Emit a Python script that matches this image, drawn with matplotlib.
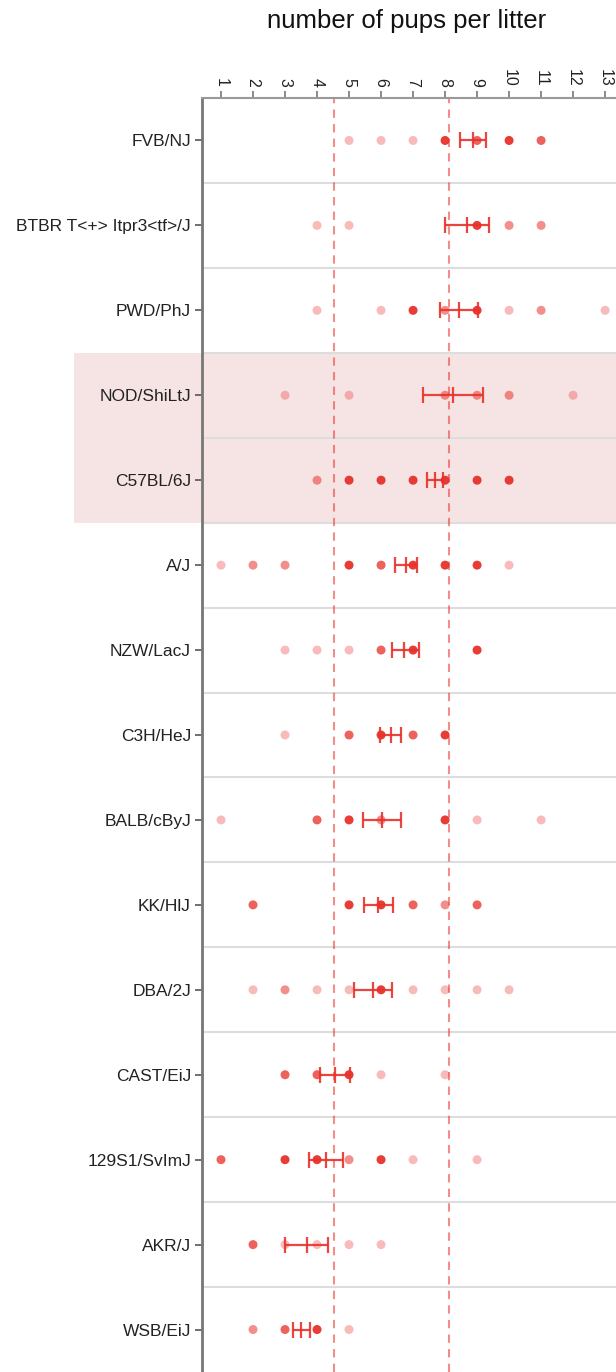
import matplotlib
matplotlib.use("Agg")
import matplotlib.pyplot as plt
from matplotlib.patches import Rectangle
from matplotlib.transforms import blended_transform_factory

plt.rcParams['font.family'] = ['Liberation Sans', 'DejaVu Sans']

# Strains, top to bottom
strains = [
    "FVB/NJ", "BTBR T<+> Itpr3<tf>/J", "PWD/PhJ", "NOD/ShiLtJ", "C57BL/6J",
    "A/J", "NZW/LacJ", "C3H/HeJ", "BALB/cByJ", "KK/HlJ", "DBA/2J",
    "CAST/EiJ", "129S1/SvImJ", "AKR/J", "WSB/EiJ",
]

# Observed litter sizes per strain and how often each occurred
litter_sizes = [
    [5, 6, 7, 8, 9, 10, 11],
    [4, 5, 9, 10, 11],
    [4, 6, 7, 8, 9, 10, 11, 13],
    [3, 5, 8, 9, 10, 12],
    [4, 5, 6, 7, 8, 9, 10],
    [1, 2, 3, 5, 6, 7, 8, 9, 10],
    [3, 4, 5, 6, 7, 9],
    [3, 5, 6, 7, 8],
    [1, 4, 5, 6, 8, 9, 11],
    [2, 5, 6, 7, 8, 9],
    [2, 3, 4, 5, 6, 7, 8, 9, 10],
    [3, 4, 5, 6, 8],
    [1, 3, 4, 5, 6, 7, 9],
    [2, 3, 4, 5, 6],
    [2, 3, 4, 5],
]
litter_counts = [
    [1, 1, 1, 4, 3, 4, 3],
    [1, 1, 4, 2, 2],
    [1, 1, 4, 2, 4, 1, 2, 1],
    [1, 1, 2, 2, 2, 1],
    [2, 4, 4, 4, 4, 4, 4],
    [1, 2, 2, 4, 3, 4, 4, 4, 1],
    [1, 1, 1, 3, 4, 4],
    [1, 3, 4, 3, 4],
    [1, 3, 4, 2, 4, 1, 1],
    [3, 4, 4, 3, 2, 3],
    [1, 2, 1, 1, 4, 1, 1, 1, 1],
    [3, 3, 4, 1, 1],
    [3, 4, 4, 2, 4, 1, 1],
    [3, 1, 1, 1, 1],
    [2, 3, 4, 1],
]

# Mean litter size with 95% confidence interval
ci_low = [8.47, 7.99, 7.84, 7.32, 7.45, 6.43, 6.35, 5.98, 5.43, 5.46, 5.17, 4.08, 3.76, 3.00, 3.24]
mean_size = [8.88, 8.68, 8.42, 8.26, 7.69, 6.79, 6.72, 6.32, 6.02, 5.90, 5.75, 4.55, 4.29, 3.68, 3.50]
ci_high = [9.28, 9.36, 9.03, 9.17, 7.94, 7.13, 7.19, 6.63, 6.61, 6.37, 6.33, 5.04, 4.81, 4.34, 3.77]

# Reference range lines and highlighted strains
reference_lines = [4.54, 8.13]
highlighted = ["NOD/ShiLtJ", "C57BL/6J"]

x_ticks = list(range(1, 14))

RED = "#e8312a"

W, H = 616, 1372
fig = plt.figure(figsize=(W / 100, H / 100), dpi=100)
ax = fig.add_axes([202 / W, 0, 1 - 202 / W, 1 - 98 / H])

n = len(strains)
ax.set_ylim(n - 0.5, -0.5)
ax.set_xlim(0.406, 13.34)

# Highlight band (extends into label area)
trans = blended_transform_factory(fig.transFigure, ax.transData)
for name in highlighted:
    i = strains.index(name)
    ax.add_patch(Rectangle((74 / W, i - 0.5), 1 - 74 / W, 1.0, transform=trans,
                           facecolor="#f6e4e4", edgecolor="none", clip_on=False, zorder=0))

# Row separators
for i in range(n - 1):
    ax.axhline(i + 0.5, color="#dddddd", lw=1.5, zorder=1)

# Reference lines
for xv in reference_lines:
    ax.axvline(xv, color=RED, alpha=0.55, lw=1.5, ls=(0, (4, 3)), zorder=1)

# Dots (opacity reflects how often each litter size was seen)
for i, (sizes, counts) in enumerate(zip(litter_sizes, litter_counts)):
    for s, c in zip(sizes, counts):
        a = min(0.95, 0.1 + 0.22 * c)
        ax.scatter([s], [i], s=42, color=RED, alpha=a, edgecolors="none", zorder=3)

# Confidence intervals
for i in range(n):
    ax.errorbar(mean_size[i], i,
                xerr=[[mean_size[i] - ci_low[i]], [ci_high[i] - mean_size[i]]],
                fmt="none", ecolor=RED, elinewidth=1.6, capsize=6, capthick=1.6,
                alpha=0.9, zorder=4)
    ax.plot([mean_size[i]], [i], marker="|", ms=12, mew=1.6, color=RED,
            alpha=0.9, zorder=4)

# Axes styling
ax.set_yticks(range(n))
ax.set_yticklabels(strains, fontsize=12.5, color="#222222")
ax.tick_params(axis="y", length=5, width=1.2, color="#555555", pad=3)

ax.xaxis.tick_top()
ax.xaxis.set_label_position("top")
ax.set_xticks(x_ticks)
ax.set_xticklabels([str(t) for t in x_ticks], rotation=-90, fontsize=11.5, color="#222222")
ax.tick_params(axis="x", length=5, width=1.2, color="#777777", pad=3)

for side in ["right", "bottom"]:
    ax.spines[side].set_visible(False)
ax.spines["left"].set_color("#777777")
ax.spines["left"].set_linewidth(2)
ax.spines["top"].set_color("#999999")
ax.spines["top"].set_linewidth(1.5)
ax.set_facecolor("none")

fig.text(407 / W, 1 - 21 / H, "number of pups per litter", ha="center", va="center",
         fontsize=18.5, color="#111111")

fig.savefig("out.png", dpi=100)
